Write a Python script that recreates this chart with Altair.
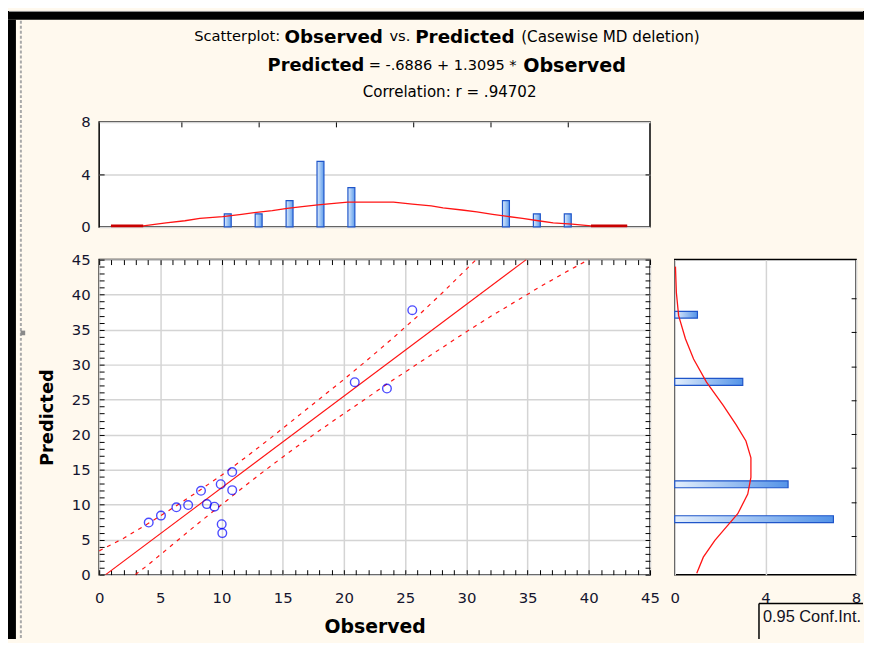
import altair as alt
import pandas as pd

# ---------------- data ----------------
observed = [4.05, 5.05, 6.31, 7.27, 8.32, 8.80, 9.42, 9.93, 10.87, 10.87, 10.01, 10.06, 20.88, 23.51, 25.58]
predicted = [7.45, 8.44, 9.62, 9.94, 11.98, 10.08, 9.71, 12.92, 14.66, 12.07, 7.21, 5.94, 27.49, 26.59, 37.77]

reg_x = [0.53, 34.89]
reg_y = [0.0, 45.0]

upper_x = [0, 2, 4, 6, 8, 10, 12, 14, 16, 18, 20, 22, 24, 26, 28, 30.8]
upper_y = [3.4, 5.2, 7.3, 9.5, 11.8, 14.2, 16.8, 19.5, 22.3, 25.1, 27.9, 30.8, 33.8, 36.9, 40.2, 45.0]

lower_x = [2.95, 4, 6, 8, 10, 12, 14, 16, 18, 20, 22, 24, 26, 28, 30, 32, 34, 36, 38, 40.0]
lower_y = [0.0, 1.4, 4.3, 7.2, 10.0, 12.8, 15.5, 18.1, 20.6, 23.0, 25.4, 27.8, 30.1, 32.4, 34.7, 36.9, 39.0, 41.1, 43.1, 45.0]

top_bins = [1.6, 2.0, 2.4, 2.8, 3.2, 5.2, 5.6, 6.0]
top_counts = [1, 1, 2, 5, 3, 2, 1, 1]
top_curve_x = [0.15, 0.56, 0.85, 1.09, 1.28, 1.57, 1.81, 2.0, 2.2, 2.39, 2.58, 2.78, 3.02, 3.16,
               3.74, 3.98, 4.22, 4.37, 4.61, 4.8, 5.0, 5.19, 5.38, 5.58, 5.77, 6.01, 6.25, 6.71]
top_curve_y = [0.08, 0.08, 0.31, 0.47, 0.65, 0.78, 0.96, 1.11, 1.24, 1.42, 1.55, 1.68, 1.81, 1.89,
               1.89, 1.73, 1.60, 1.45, 1.29, 1.14, 0.96, 0.80, 0.65, 0.47, 0.31, 0.21, 0.08, 0.08]
top_tail_x = [0.15, 0.56, 6.25, 6.71]
top_tail_y = [0.08, 0.08, 0.08, 0.08]
top_tail_side = ["left", "left", "right", "right"]

right_bins = [7.45, 12.6, 27.7, 37.6]
right_counts = [7, 5, 3, 1]
right_curve_n = [0.03, 0.07, 0.17, 0.47, 0.83, 1.40, 2.13, 2.71, 3.14, 3.36, 3.36, 3.22, 2.78, 2.27, 1.77, 1.26, 0.97]
right_curve_y = [44.0, 40.3, 37.0, 33.7, 30.8, 27.5, 24.2, 21.4, 19.1, 16.7, 13.9, 11.5, 8.7, 6.8, 4.9, 2.5, 0.2]

main_ticks = list(range(0, 46, 5))
minor_ticks = list(range(0, 46, 1))
top_y_ticks = [0, 4, 8]
top_x_ticks = [1, 2, 3, 4, 5, 6]
right_x_ticks = [0, 4, 8]
right_y_ticks = list(range(5, 45, 5))

title1 = ["Scatterplot:", "Observed", "vs.", "Predicted", "(Casewise MD deletion)"]
title2 = ["Predicted", "= -.6886 + 1.3095 *", "Observed"]
title3 = ["Correlation: r = .94702"]
legend_text = ["0.95 Conf.Int."]

# ---------------- styling ----------------
BG = "#FFF9EE"
FONT = "DejaVu Sans"
LEG_FONT = "Liberation Sans"
LABEL_COLOR = "#15152e"
W_MAIN, H_MAIN = 556, 318
W_TOP, H_TOP = 556, 106
W_RIGHT = 183
LEG_H = 36

frame = alt.ViewBackground(fill="white", stroke="black", strokeWidth=1.5)
black_view = alt.ViewBackground(fill="black", stroke="black", strokeWidth=0)
clear_view = alt.ViewBackground(fill="transparent", strokeWidth=0)

bar_fill_v = alt.LinearGradient(gradient="linear",
                                stops=[alt.GradientStop(color="#dbeafc", offset=0),
                                       alt.GradientStop(color="#5d9ceb", offset=1)],
                                x1=0, x2=1, y1=0, y2=0)
bar_fill_h = alt.LinearGradient(gradient="linear",
                                stops=[alt.GradientStop(color="#e4effc", offset=0),
                                       alt.GradientStop(color="#5393e8", offset=1)],
                                x1=0, x2=1, y1=0, y2=0)
BAR_STROKE = "#1f55c9"
RED = "#ff1414"


def sc(lo, hi):
    return alt.Scale(domain=[lo, hi], nice=False, zero=False)


def tick_axis(orient, offset, values, size=5):
    return alt.Axis(orient=orient, offset=offset, values=values, labels=False, ticks=True,
                    tickSize=size, tickColor="black", tickWidth=1, domain=False, grid=False,
                    title=None)


def label_axis(orient, values, title=None, grid=True, label_padding=10, title_padding=10,
               title_size=18):
    kw = dict(orient=orient, values=values, grid=grid, gridColor="#d4d4d4", gridWidth=1.5,
              ticks=False, domain=False, labelFont=FONT, labelFontSize=15,
              labelColor=LABEL_COLOR, labelPadding=label_padding, labelFlush=False,
              labelOverlap=False)
    if title is None:
        kw["title"] = None
    else:
        kw.update(title=title, titleFont=FONT, titleFontSize=title_size,
                  titleFontWeight="bold", titleColor="black", titlePadding=title_padding)
    return alt.Axis(**kw)


# ---------------- main scatter ----------------
pts = pd.DataFrame({"Observed": observed, "Predicted": predicted})
reg = pd.DataFrame({"x": reg_x, "y": reg_y})
up = pd.DataFrame({"x": upper_x, "y": upper_y})
lo = pd.DataFrame({"x": lower_x, "y": lower_y})

points = alt.Chart(pts).mark_point(shape="circle", filled=False, color="#0000ff",
                                   size=76, strokeWidth=1.4).encode(
    x=alt.X("Observed:Q", scale=sc(0, 45),
            axis=label_axis("bottom", main_ticks, "Observed", label_padding=16.5,
                            title_padding=12, title_size=19)),
    y=alt.Y("Predicted:Q", scale=sc(0, 45),
            axis=label_axis("left", main_ticks, "Predicted", label_padding=9,
                            title_padding=15, title_size=18)),
)

reg_line = alt.Chart(reg).mark_line(color=RED, strokeWidth=1.1, clip=True).encode(
    x=alt.X("x:Q", scale=sc(0, 45), axis=None),
    y=alt.Y("y:Q", scale=sc(0, 45), axis=None),
)
up_line = alt.Chart(up).mark_line(color=RED, strokeWidth=1.2, strokeDash=[4, 5], clip=True).encode(
    x=alt.X("x:Q", scale=sc(0, 45), axis=None),
    y=alt.Y("y:Q", scale=sc(0, 45), axis=None),
)
lo_line = alt.Chart(lo).mark_line(color=RED, strokeWidth=1.2, strokeDash=[4, 5], clip=True).encode(
    x=alt.X("x:Q", scale=sc(0, 45), axis=None),
    y=alt.Y("y:Q", scale=sc(0, 45), axis=None),
)
ticks_a = alt.Chart(pts).mark_point(opacity=0).encode(
    x=alt.X("Observed:Q", scale=sc(0, 45), axis=tick_axis("top", -H_MAIN, minor_ticks)),
    y=alt.Y("Predicted:Q", scale=sc(0, 45), axis=tick_axis("right", -W_MAIN, minor_ticks)),
)
ticks_b = alt.Chart(pts).mark_point(opacity=0).encode(
    x=alt.X("Observed:Q", scale=sc(0, 45), axis=tick_axis("bottom", -H_MAIN, minor_ticks)),
    y=alt.Y("Predicted:Q", scale=sc(0, 45), axis=tick_axis("left", -W_MAIN, minor_ticks)),
)
main = alt.layer(up_line, lo_line, reg_line, points, ticks_a, ticks_b).resolve_scale(
    x="independent", y="independent").properties(width=W_MAIN, height=H_MAIN, view=frame)

# ---------------- top histogram ----------------
tdf = pd.DataFrame({"c": top_bins, "n": top_counts})
tcurve = pd.DataFrame({"x": top_curve_x, "y": top_curve_y})
ttail = pd.DataFrame({"x": top_tail_x, "y": top_tail_y, "side": top_tail_side})
top_bars = alt.Chart(tdf).mark_bar(orient="vertical", size=7, fill=bar_fill_v,
                                   stroke=BAR_STROKE, strokeWidth=1.2).encode(
    x=alt.X("c:Q", scale=sc(0, 7), axis=tick_axis("bottom", -H_TOP, top_x_ticks)),
    y=alt.Y("n:Q", scale=sc(0, 8), axis=label_axis("left", top_y_ticks, label_padding=9)),
)
top_line = alt.Chart(tcurve).mark_line(color=RED, strokeWidth=1.3).encode(
    x=alt.X("x:Q", scale=sc(0, 7), axis=None),
    y=alt.Y("y:Q", scale=sc(0, 8), axis=tick_axis("right", -W_TOP, [4])),
)
top_tail = alt.Chart(ttail).mark_line(color="#c80000", strokeWidth=2.6).encode(
    x=alt.X("x:Q", scale=sc(0, 7), axis=None),
    y=alt.Y("y:Q", scale=sc(0, 8), axis=tick_axis("left", -W_TOP, [4])),
    detail="side:N",
)
top_hist = alt.layer(top_bars, top_line, top_tail).resolve_scale(
    x="independent", y="independent").properties(width=W_TOP, height=H_TOP, view=frame)

# ---------------- right histogram ----------------
rdf = pd.DataFrame({"c": right_bins, "n": right_counts})
rcurve = pd.DataFrame({"n": right_curve_n, "y": right_curve_y, "o": list(range(len(right_curve_y)))})
right_bars = alt.Chart(rdf).mark_bar(orient="horizontal", size=7, fill=bar_fill_h,
                                     stroke=BAR_STROKE, strokeWidth=1.2).encode(
    x=alt.X("n:Q", scale=sc(0, 8), axis=label_axis("bottom", right_x_ticks, label_padding=16.5)),
    y=alt.Y("c:Q", scale=sc(0, 45), axis=tick_axis("left", -W_RIGHT, right_y_ticks)),
)
right_line = alt.Chart(rcurve).mark_line(color=RED, strokeWidth=1.3).encode(
    x=alt.X("n:Q", scale=sc(0, 8), axis=None),
    y=alt.Y("y:Q", scale=sc(0, 45), axis=None),
    order=alt.Order("o:Q"),
)
right_hist = alt.layer(right_bars, right_line).resolve_scale(
    x="independent", y="independent").properties(width=W_RIGHT, height=H_MAIN, view=frame)

# ---------------- legend box ----------------
one = pd.DataFrame({"a": [0]})
leg_txt = alt.Chart(pd.DataFrame({"t": legend_text})).mark_text(
    align="left", baseline="top", font=LEG_FONT, fontSize=16.5, color="#111122").encode(
    x=alt.value(89), y=alt.value(6), text="t:N")
leg_v = alt.Chart(one).mark_rule(color="black", strokeWidth=1.5).encode(
    x=alt.value(85), y=alt.value(0), y2=alt.value(LEG_H))
leg_h = alt.Chart(one).mark_rule(color="black", strokeWidth=1.5).encode(
    x=alt.value(85), x2=alt.value(190), y=alt.value(0))
legend_view = alt.layer(leg_v, leg_h, leg_txt).properties(width=190, height=LEG_H, view=clear_view)

# ---------------- titles ----------------
def seg(text, x, y, size, bold):
    return alt.Chart(pd.DataFrame({"t": [text]})).mark_text(
        align="left", baseline="middle", font=FONT, fontSize=size,
        fontWeight="bold" if bold else "normal", color="black").encode(
        x=alt.value(x), y=alt.value(y), text="t:N")


title_layers = [
    seg(title1[0], 96, 17, 14.8, False),
    seg(title1[1], 187, 17, 18.5, True),
    seg(title1[2], 293, 17, 14.8, False),
    seg(title1[3], 319, 17, 18.5, True),
    seg(title1[4], 426, 17, 15.3, False),
    seg(title2[0], 170, 47, 18, True),
    seg(title2[1], 272, 47, 14.7, False),
    seg(title2[2], 428, 47, 19.3, True),
    seg(title3[0], 266, 73, 15.2, False),
]
title_view = alt.layer(*title_layers).properties(width=W_MAIN, height=70, view=clear_view)

# ---------------- frame strips ----------------
STRIP_H = 70 + 33 + H_TOP + 33 + H_MAIN + 29 + LEG_H
top_strip = alt.Chart(one).mark_rule(color="#9a9a9a", strokeWidth=1).encode(
    x=alt.value(1), x2=alt.value(863), y=alt.value(0.5)).properties(
    width=864, height=9, view=black_view)
strip_line = alt.Chart(one).mark_rule(color="#a9a9a9", strokeDash=[3, 2], strokeWidth=2).encode(
    x=alt.value(13), y=alt.value(1), y2=alt.value(STRIP_H - 1))
strip_mark = alt.Chart(one).mark_square(color="#8a8a8a", size=22, opacity=1).encode(
    x=alt.value(15), y=alt.value(316))
left_strip = alt.layer(strip_line, strip_mark).properties(
    width=8, height=STRIP_H, view=black_view)

# ---------------- layout ----------------
right_col = alt.vconcat(right_hist, legend_view, spacing=29, bounds="flush")
bottom_row = alt.hconcat(main, right_col, spacing=25, bounds="flush")
inner = alt.vconcat(top_hist, bottom_row, spacing=33, bounds="flush")
content = alt.vconcat(title_view, inner, spacing=33, bounds="flush")
middle = alt.hconcat(left_strip, content, spacing=84, bounds="flush")
chart = alt.vconcat(top_strip, middle, spacing=0, bounds="flush").properties(
    padding=0, background=BG).configure_view(stroke="transparent")

chart.save("out.html", embed_options={"renderer": "svg", "actions": False})
